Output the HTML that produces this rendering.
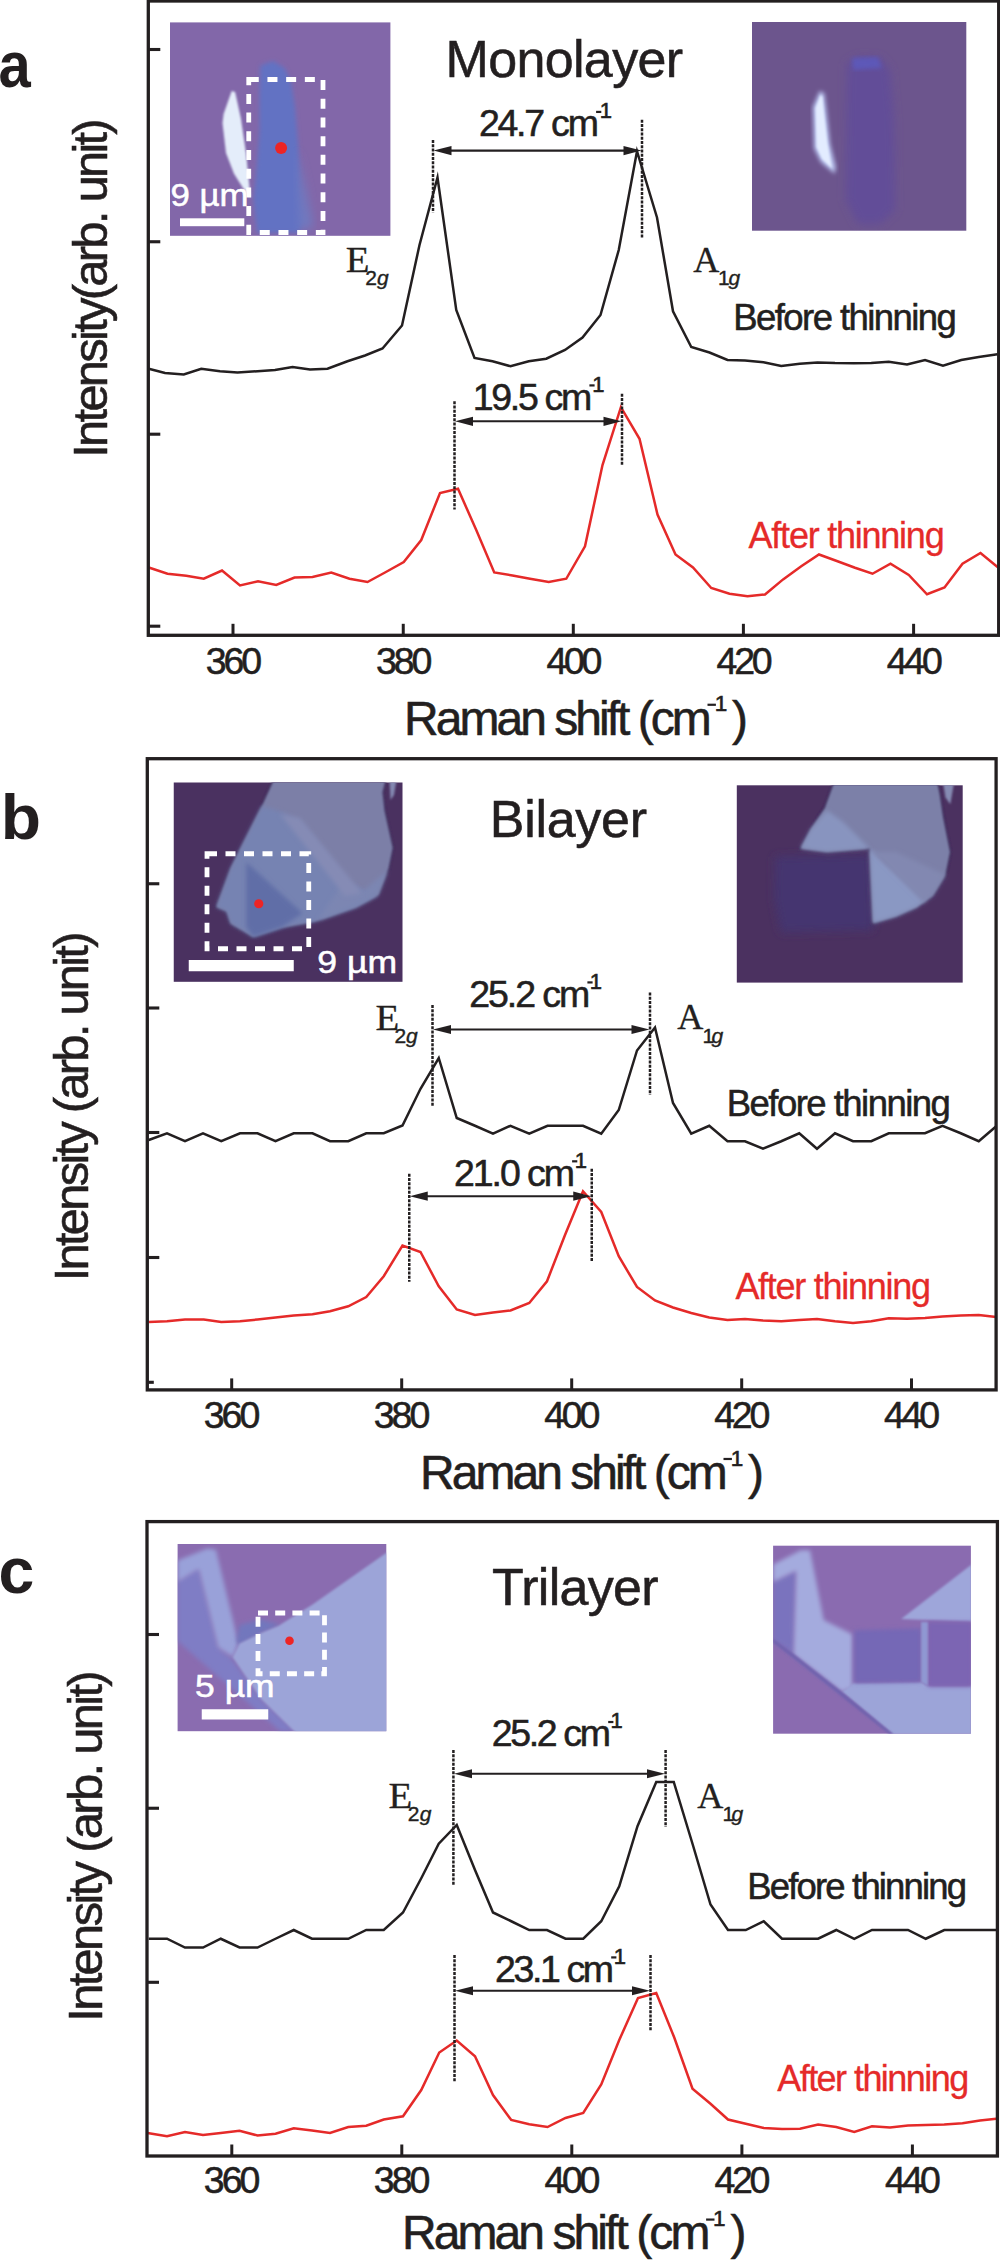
<!DOCTYPE html>
<html><head><meta charset="utf-8"><title>Raman spectra</title>
<style>html,body{margin:0;padding:0;background:#fff}svg{display:block}text{white-space:pre}</style></head>
<body><svg width="1000" height="2260" viewBox="0 0 1000 2260">
<defs>
<filter id="b1" x="-10%" y="-10%" width="120%" height="120%"><feGaussianBlur stdDeviation="1.2"/></filter>
<filter id="b2" x="-10%" y="-10%" width="120%" height="120%"><feGaussianBlur stdDeviation="2.2"/></filter>
<filter id="b3" x="-20%" y="-20%" width="140%" height="140%"><feGaussianBlur stdDeviation="4"/></filter>
</defs>
<rect width="1000" height="2260" fill="#fff"/>
<!-- panel a -->
<clipPath id="ca1"><rect x="170" y="22.4" width="220.4" height="213.4"/></clipPath>
<rect x="170" y="22.4" width="220.4" height="213.4" fill="#8267a9"/>
<g clip-path="url(#ca1)">
<polygon points="260.4,65.6 273.0,61.0 284.6,68.0 291.0,81.7 295.0,107.0 298.0,143.8 301.0,189.8 305.0,222.0 298.4,233.0 257.0,233.0 253.5,199.0 256.0,176.0 259.6,130.0 259.4,95.5" fill="#6272c3" filter="url(#b2)"/>
<polygon points="297.0,150.0 306.0,190.0 313.0,226.0 300.0,232.0" fill="#7079c0" filter="url(#b3)"/>
<polygon points="231.7,90.9 223.6,113.9 222.5,123.1 226.0,153.0 234.0,173.7 243.0,188.0 250.5,197.5 246.0,153.0 240.9,118.5 235.1,92.0" fill="#e4edfa" filter="url(#b1)"/>
</g>
<rect x="248.75" y="79.5" width="74.25" height="153.0" fill="none" stroke="#fff" stroke-width="4.8" stroke-dasharray="10 8.7"/>
<circle cx="281.1" cy="147.9" r="6" fill="#ee2424"/>
<rect x="180" y="218.3" width="64.30000000000001" height="7.899999999999977" fill="#fff"/>
<text transform="translate(170.52,206.30) scale(1.0884,1)" font-family="Liberation Sans" font-size="32" fill="#fff" stroke="#fff" stroke-width="0.5">9 µm</text>
<clipPath id="ca2"><rect x="752" y="22" width="214.3" height="208.7"/></clipPath>
<rect x="752" y="22" width="214.3" height="208.7" fill="#6c558d"/>
<g clip-path="url(#ca2)">
<polygon points="847.0,64.0 858.0,57.0 880.0,58.0 890.0,70.0 894.0,120.0 895.0,210.0 880.0,224.0 858.0,224.0 846.0,200.0" fill="#624d98" filter="url(#b3)"/>
<polygon points="852.0,58.0 878.0,57.0 882.0,68.0 853.0,70.0" fill="#5d58b8" filter="url(#b2)"/>
<polygon points="819.7,90.9 812.8,107.0 814.0,148.4 820.9,162.2 834.7,173.7 835.8,166.8 830.1,143.8 826.6,111.6 824.3,93.2" fill="#b9c3ee" filter="url(#b2)"/>
<polygon points="820.5,95.0 815.5,108.0 816.5,147.0 822.0,159.0 832.0,168.5 827.5,143.0 824.0,112.0 822.5,97.0" fill="#e3ecff" filter="url(#b1)"/>
</g>
<polyline points="148.75,368.75 165.00,373.00 183.75,374.50 201.25,368.75 220.00,371.25 237.50,372.50 257.50,371.25 275.00,370.00 292.50,367.00 310.00,369.50 327.50,368.75 347.50,361.25 365.00,355.50 382.50,348.50 402.00,325.50 419.50,245.00 437.50,177.50 456.25,310.00 474.50,358.00 492.50,361.25 510.50,366.25 528.75,361.25 546.25,358.75 565.00,350.00 582.50,337.50 600.50,315.00 618.75,250.00 637.00,151.25 657.00,217.50 673.00,311.25 691.25,347.00 709.50,352.50 727.50,360.00 745.00,360.50 763.50,362.20 781.25,366.00 799.75,363.75 817.50,362.50 835.00,363.10 853.75,363.20 871.25,363.00 888.75,361.75 907.00,364.50 925.00,360.00 943.00,365.75 961.25,360.00 978.75,357.00 997.50,354.25" fill="none" stroke="#231f20" stroke-width="2.5" stroke-linejoin="miter" stroke-miterlimit="6"/>
<polyline points="148.75,567.50 167.50,573.75 186.25,575.75 203.75,578.75 222.00,570.50 240.00,585.50 258.00,581.25 276.25,585.00 294.50,577.50 312.50,577.00 331.25,572.50 349.50,578.75 367.50,582.00 385.00,572.50 403.75,562.00 421.25,540.00 440.00,493.00 458.00,488.75 476.25,530.00 494.25,572.50 512.50,575.50 530.00,578.75 548.75,582.00 566.25,578.75 585.00,546.25 602.50,465.00 620.90,407.20 639.50,438.75 657.50,514.50 675.50,554.50 693.00,567.50 711.25,588.00 729.50,593.75 747.50,596.25 765.00,594.50 783.10,579.40 801.25,566.25 819.00,554.50 837.50,561.25 855.00,567.75 872.50,573.75 890.50,563.75 908.75,575.00 927.00,594.25 944.50,587.50 962.50,563.75 980.50,553.00 998.75,568.00" fill="none" stroke="#e52a29" stroke-width="2.5" stroke-linejoin="miter" stroke-miterlimit="6"/>
<rect x="148.3" y="1.0" width="850.4000000000001" height="634.3" fill="none" stroke="#231f20" stroke-width="3.3"/>
<line x1="148.3" y1="49.5" x2="160.3" y2="49.5" stroke="#231f20" stroke-width="3.1"/>
<line x1="148.3" y1="241.75" x2="160.3" y2="241.75" stroke="#231f20" stroke-width="3.1"/>
<line x1="148.3" y1="434.2" x2="160.3" y2="434.2" stroke="#231f20" stroke-width="3.1"/>
<line x1="148.3" y1="626.2" x2="160.3" y2="626.2" stroke="#231f20" stroke-width="3.1"/>
<line x1="233" y1="623.8" x2="233" y2="635.3" stroke="#231f20" stroke-width="3.0"/>
<line x1="403.25" y1="623.8" x2="403.25" y2="635.3" stroke="#231f20" stroke-width="3.0"/>
<line x1="573.3" y1="623.8" x2="573.3" y2="635.3" stroke="#231f20" stroke-width="3.0"/>
<line x1="743.4" y1="623.8" x2="743.4" y2="635.3" stroke="#231f20" stroke-width="3.0"/>
<line x1="913.6" y1="623.8" x2="913.6" y2="635.3" stroke="#231f20" stroke-width="3.0"/>
<text x="205.65" y="673.50" font-family="Liberation Sans" font-size="37.5" letter-spacing="-3.012" fill="#231f20" stroke="#231f20" stroke-width="0.55">360</text>
<text x="375.90" y="673.50" font-family="Liberation Sans" font-size="37.5" letter-spacing="-3.012" fill="#231f20" stroke="#231f20" stroke-width="0.55">380</text>
<text x="546.51" y="673.50" font-family="Liberation Sans" font-size="37.5" letter-spacing="-3.296" fill="#231f20" stroke="#231f20" stroke-width="0.55">400</text>
<text x="716.61" y="673.50" font-family="Liberation Sans" font-size="37.5" letter-spacing="-3.296" fill="#231f20" stroke="#231f20" stroke-width="0.55">420</text>
<text x="886.81" y="673.50" font-family="Liberation Sans" font-size="37.5" letter-spacing="-3.296" fill="#231f20" stroke="#231f20" stroke-width="0.55">440</text>
<text transform="translate(-1.50,87.20) scale(0.9055,1)" font-family="Liberation Sans" font-weight="bold" font-size="64" fill="#231f20">a</text>
<text transform="translate(106.60,453.50) rotate(-90)" x="-4.25" y="0" font-family="Liberation Sans" font-size="49" letter-spacing="-2.777" fill="#231f20" stroke="#231f20" stroke-width="0.55">Intensity(arb. unit)</text>
<text x="445.51" y="77.30" font-family="Liberation Sans" font-size="52" letter-spacing="-0.651" fill="#231f20" stroke="#231f20" stroke-width="0.55">Monolayer</text>
<text x="478.89" y="136.30" font-family="Liberation Sans" font-size="37.5" letter-spacing="-2.231" fill="#231f20" stroke="#231f20" stroke-width="0.55">24.7 cm</text>
<rect x="596.10" y="110.82" width="5.20" height="2.2" fill="#231f20"/>
<text x="599.74" y="118.30" font-family="Liberation Sans" font-size="22" fill="#231f20" stroke="#231f20" stroke-width="0.6">1</text>
<text x="472.72" y="409.80" font-family="Liberation Sans" font-size="37.5" letter-spacing="-2.319" fill="#231f20" stroke="#231f20" stroke-width="0.55">19.5 cm</text>
<rect x="589.40" y="384.32" width="5.20" height="2.2" fill="#231f20"/>
<text x="592.14" y="391.80" font-family="Liberation Sans" font-size="22" fill="#231f20" stroke="#231f20" stroke-width="0.6">1</text>
<line x1="433" y1="140" x2="433" y2="212.5" stroke="#231f20" stroke-width="2.5" stroke-dasharray="3.0 1.25"/>
<line x1="642" y1="119.8" x2="642" y2="238.25" stroke="#231f20" stroke-width="2.5" stroke-dasharray="3.0 1.25"/>
<line x1="449.5" y1="150.6" x2="625.5" y2="150.6" stroke="#231f20" stroke-width="2.1"/>
<polygon points="433.5,150.6 451.5,146.0 451.5,155.2" fill="#231f20"/>
<polygon points="641.5,150.6 623.5,146.0 623.5,155.2" fill="#231f20"/>
<line x1="454.5" y1="401.25" x2="454.5" y2="509.5" stroke="#231f20" stroke-width="2.5" stroke-dasharray="3.0 1.25"/>
<line x1="622" y1="393.75" x2="622" y2="465.5" stroke="#231f20" stroke-width="2.5" stroke-dasharray="3.0 1.25"/>
<line x1="471" y1="421.3" x2="605.5" y2="421.3" stroke="#231f20" stroke-width="2.1"/>
<polygon points="455,421.3 473,416.7 473,425.90000000000003" fill="#231f20"/>
<polygon points="621.5,421.3 603.5,416.7 603.5,425.90000000000003" fill="#231f20"/>
<text transform="translate(345.78,271.60) scale(1.080,1)" font-family="Liberation Serif" font-size="36" fill="#231f20" stroke="#231f20" stroke-width="0.3">E</text>
<text x="365.34" y="284.70" font-family="Liberation Sans" font-size="21" fill="#231f20" stroke="#231f20" stroke-width="0.4">2</text>
<text x="377.11" y="284.70" font-family="Liberation Sans" font-size="21" font-style="italic" fill="#231f20" stroke="#231f20" stroke-width="0.4">g</text>
<text transform="translate(693.15,271.60) scale(1.005,1)" font-family="Liberation Serif" font-size="36" fill="#231f20" stroke="#231f20" stroke-width="0.3">A</text>
<text x="717.90" y="284.70" font-family="Liberation Sans" font-size="21" fill="#231f20" stroke="#231f20" stroke-width="0.4">1</text>
<text x="728.51" y="284.70" font-family="Liberation Sans" font-size="21" font-style="italic" fill="#231f20" stroke="#231f20" stroke-width="0.4">g</text>
<text x="733.28" y="329.60" font-family="Liberation Sans" font-size="36.5" letter-spacing="-1.574" fill="#231f20" stroke="#231f20" stroke-width="0.55">Before thinning</text>
<text x="748.58" y="547.60" font-family="Liberation Sans" font-size="36" letter-spacing="-1.234" fill="#e52a29" stroke="#e52a29" stroke-width="0.3">After thinning</text>
<text x="404.04" y="734.50" font-family="Liberation Sans" font-size="48" letter-spacing="-2.975" fill="#231f20" stroke="#231f20" stroke-width="0.55">Raman shift (cm</text>
<rect x="707.50" y="703.67" width="8.40" height="2.2" fill="#231f20"/>
<text x="714.69" y="711.30" font-family="Liberation Sans" font-size="22.5" fill="#231f20" stroke="#231f20" stroke-width="0.6">1</text>
<text x="731.99" y="734.50" font-family="Liberation Sans" font-size="48" letter-spacing="0.000" fill="#231f20" stroke="#231f20" stroke-width="0.55">)</text>
<!-- panel b -->
<clipPath id="cb1"><rect x="173.75" y="782.5" width="228.75" height="199.3"/></clipPath>
<rect x="173.75" y="782.5" width="228.75" height="199.3" fill="#4a3160"/>
<g clip-path="url(#cb1)">
<polygon points="273.8,780.0 261.5,806.7 243.0,843.5 230.7,868.2 216.4,907.1 226.7,911.2 230.7,923.5 253.3,936.8 282.0,927.6 314.8,921.5 355.8,907.1 378.4,894.8 388.6,868.2 392.7,847.7 384.5,810.8 382.5,792.3 385.5,780.0" fill="#3f2f5c" filter="url(#b1)" stroke="#3f2f5c" stroke-width="2.5"/>
<polygon points="273.8,780.0 261.5,806.7 243.0,843.5 230.7,868.2 216.4,907.1 226.7,911.2 230.7,923.5 253.3,936.8 282.0,927.6 314.8,921.5 355.8,907.1 378.4,894.8 388.6,868.2 392.7,847.7 384.5,810.8 382.5,792.3 385.5,780.0" fill="#7b7fa7" filter="url(#b1)"/>
<polygon points="262.0,806.0 243.0,843.5 230.7,868.2 216.4,907.1 226.7,911.2 230.7,923.5 253.3,936.8 282.0,927.6 314.8,921.5 355.8,907.1 378.0,895.0 350.0,885.0 300.0,822.0 282.0,812.0" fill="#7683b2" filter="url(#b2)"/>
<polygon points="318.0,920.0 355.8,907.1 378.4,894.8 388.0,870.0 362.0,892.0 345.0,880.0" fill="#7c86b2" filter="url(#b2)"/>
<polygon points="280.0,814.0 300.0,818.0 362.0,893.0 345.0,896.0" fill="#858bb5" filter="url(#b2)"/>
<polygon points="246.1,862.0 302.5,913.3 282.0,927.0 253.3,936.8 246.1,927.0" fill="#606ea7" filter="url(#b2)"/>
<polygon points="389.5,780.0 396.5,780.0 394.0,795.0 390.5,800.0" fill="#8388b1" filter="url(#b1)"/>
</g>
<rect x="207" y="853.75" width="101.75" height="95.0" fill="none" stroke="#fff" stroke-width="4.8" stroke-dasharray="10 8.5"/>
<circle cx="258.75" cy="903.75" r="4.6" fill="#ee2424"/>
<rect x="188.75" y="960" width="105.0" height="11.25" fill="#fff"/>
<text transform="translate(317.33,972.50) scale(1.1470,1)" font-family="Liberation Sans" font-size="31" fill="#fff" stroke="#fff" stroke-width="0.5">9 µm</text>
<clipPath id="cb2"><rect x="736.8" y="785.3" width="225.9" height="197.3"/></clipPath>
<rect x="736.8" y="785.3" width="225.9" height="197.3" fill="#4b3160"/>
<g clip-path="url(#cb2)">
<polygon points="775.2,856.6 870.7,854.3 873.0,930.2 781.0,932.5 774.1,898.0" fill="#44366f" filter="url(#b3)"/>
<polygon points="833.9,783.0 824.7,808.3 810.9,829.0 800.5,848.5 827.0,852.0 869.5,848.5 873.0,923.3 896.0,916.4 916.7,907.2 932.8,895.7 945.4,875.0 950.0,852.0 943.1,817.5 939.7,794.5 937.4,783.0" fill="#3c2c58" filter="url(#b1)" stroke="#3c2c58" stroke-width="2.5"/>
<polygon points="833.9,783.0 824.7,808.3 810.9,829.0 800.5,848.5 827.0,852.0 869.5,848.5 873.0,923.3 896.0,916.4 916.7,907.2 932.8,895.7 945.4,875.0 950.0,852.0 943.1,817.5 939.7,794.5 937.4,783.0" fill="#7c80a8" filter="url(#b1)"/>
<polygon points="810.9,829.0 800.5,848.5 827.0,852.0 869.5,848.5 843.1,822.1 827.0,810.6" fill="#8894bf" filter="url(#b2)"/>
<polygon points="869.5,848.5 873.0,923.3 896.0,916.4 916.7,907.2 925.9,900.3 896.0,872.7" fill="#8a98c3" filter="url(#b2)"/>
<polygon points="873.0,852.0 923.6,902.6 932.8,895.7 945.4,875.0 896.0,852.0" fill="#8288b1" filter="url(#b2)"/>
<polygon points="943.1,783.0 954.0,783.0 950.3,804.2 945.4,797.3" fill="#868bb3" filter="url(#b1)"/>
</g>
<polyline points="148.75,1140.00 167.00,1133.25 185.00,1141.25 203.00,1133.25 221.25,1141.25 240.00,1133.25 257.50,1133.25 275.50,1141.25 293.75,1133.25 312.50,1133.25 330.00,1141.25 348.25,1141.25 366.25,1133.25 383.75,1133.25 402.50,1125.50 420.50,1088.75 438.75,1058.00 456.75,1118.00 475.00,1125.75 493.00,1133.75 510.50,1125.75 529.25,1133.75 547.50,1125.75 565.00,1125.75 583.00,1125.75 601.25,1133.75 618.75,1110.00 637.00,1050.50 655.00,1027.50 673.00,1103.00 691.25,1133.75 709.25,1125.75 727.50,1141.25 745.00,1141.25 763.00,1148.75 781.25,1141.25 799.25,1133.25 817.00,1148.75 835.00,1133.25 853.00,1141.25 871.25,1141.25 888.75,1133.25 907.00,1133.25 925.00,1133.25 942.50,1125.75 960.75,1133.25 978.75,1141.25 996.25,1126.25" fill="none" stroke="#231f20" stroke-width="2.5" stroke-linejoin="miter" stroke-miterlimit="6"/>
<polyline points="148.75,1322.00 167.00,1321.25 185.00,1319.50 203.75,1319.50 221.25,1322.00 240.00,1321.25 257.50,1319.50 275.50,1317.50 293.75,1315.50 312.50,1314.25 330.00,1311.25 348.25,1306.25 366.25,1297.00 383.75,1276.25 402.50,1245.50 420.50,1252.00 438.75,1286.25 456.75,1309.50 475.00,1315.00 493.00,1312.50 510.50,1310.50 529.25,1303.00 547.00,1281.25 565.00,1235.00 583.00,1191.25 601.25,1212.00 618.75,1256.25 637.00,1287.00 655.00,1300.50 673.00,1307.50 691.25,1313.00 709.25,1317.50 727.50,1320.00 745.00,1319.00 763.00,1320.50 781.25,1321.25 799.25,1320.00 817.00,1318.90 835.00,1321.25 853.00,1323.00 871.25,1321.25 888.75,1318.25 907.00,1318.75 925.00,1318.00 942.50,1316.50 960.75,1315.50 978.75,1315.00 996.25,1317.00" fill="none" stroke="#e52a29" stroke-width="2.5" stroke-linejoin="miter" stroke-miterlimit="6"/>
<rect x="147.3" y="758.7" width="848.8" height="631.2" fill="none" stroke="#231f20" stroke-width="3.3"/>
<line x1="147.3" y1="883.75" x2="159.3" y2="883.75" stroke="#231f20" stroke-width="3.1"/>
<line x1="147.3" y1="1008" x2="159.3" y2="1008" stroke="#231f20" stroke-width="3.1"/>
<line x1="147.3" y1="1132.5" x2="159.3" y2="1132.5" stroke="#231f20" stroke-width="3.1"/>
<line x1="147.3" y1="1257.5" x2="159.3" y2="1257.5" stroke="#231f20" stroke-width="3.1"/>
<line x1="147.3" y1="1382.3" x2="153.8" y2="1382.3" stroke="#231f20" stroke-width="3.1"/>
<line x1="231.7" y1="1378.4" x2="231.7" y2="1389.9" stroke="#231f20" stroke-width="3.0"/>
<line x1="401.7" y1="1378.4" x2="401.7" y2="1389.9" stroke="#231f20" stroke-width="3.0"/>
<line x1="571.7" y1="1378.4" x2="571.7" y2="1389.9" stroke="#231f20" stroke-width="3.0"/>
<line x1="741.7" y1="1378.4" x2="741.7" y2="1389.9" stroke="#231f20" stroke-width="3.0"/>
<line x1="911.5" y1="1378.4" x2="911.5" y2="1389.9" stroke="#231f20" stroke-width="3.0"/>
<text x="203.75" y="1427.60" font-family="Liberation Sans" font-size="37.5" letter-spacing="-3.012" fill="#231f20" stroke="#231f20" stroke-width="0.55">360</text>
<text x="373.75" y="1427.60" font-family="Liberation Sans" font-size="37.5" letter-spacing="-3.012" fill="#231f20" stroke="#231f20" stroke-width="0.55">380</text>
<text x="544.31" y="1427.60" font-family="Liberation Sans" font-size="37.5" letter-spacing="-3.296" fill="#231f20" stroke="#231f20" stroke-width="0.55">400</text>
<text x="714.31" y="1427.60" font-family="Liberation Sans" font-size="37.5" letter-spacing="-3.296" fill="#231f20" stroke="#231f20" stroke-width="0.55">420</text>
<text x="884.11" y="1427.60" font-family="Liberation Sans" font-size="37.5" letter-spacing="-3.296" fill="#231f20" stroke="#231f20" stroke-width="0.55">440</text>
<text transform="translate(0.66,838.70) scale(1.0458,1)" font-family="Liberation Sans" font-weight="bold" font-size="63" fill="#231f20">b</text>
<text transform="translate(88.10,1277.00) rotate(-90)" x="-4.25" y="0" font-family="Liberation Sans" font-size="49" letter-spacing="-2.804" fill="#231f20" stroke="#231f20" stroke-width="0.55">Intensity (arb. unit)</text>
<text x="489.81" y="837.40" font-family="Liberation Sans" font-size="52" letter-spacing="-0.294" fill="#231f20" stroke="#231f20" stroke-width="0.55">Bilayer</text>
<text x="469.19" y="1006.80" font-family="Liberation Sans" font-size="37.5" letter-spacing="-2.064" fill="#231f20" stroke="#231f20" stroke-width="0.55">25.2 cm</text>
<rect x="587.40" y="981.32" width="5.20" height="2.2" fill="#231f20"/>
<text x="589.84" y="988.80" font-family="Liberation Sans" font-size="22" fill="#231f20" stroke="#231f20" stroke-width="0.6">1</text>
<text x="454.09" y="1185.70" font-family="Liberation Sans" font-size="37.5" letter-spacing="-2.097" fill="#231f20" stroke="#231f20" stroke-width="0.55">21.0 cm</text>
<rect x="572.10" y="1160.22" width="5.20" height="2.2" fill="#231f20"/>
<text x="574.84" y="1167.70" font-family="Liberation Sans" font-size="22" fill="#231f20" stroke="#231f20" stroke-width="0.6">1</text>
<line x1="432.5" y1="1005" x2="432.5" y2="1107" stroke="#231f20" stroke-width="2.5" stroke-dasharray="3.0 1.25"/>
<line x1="650" y1="992.5" x2="650" y2="1095" stroke="#231f20" stroke-width="2.5" stroke-dasharray="3.0 1.25"/>
<line x1="449" y1="1029.5" x2="633.5" y2="1029.5" stroke="#231f20" stroke-width="2.1"/>
<polygon points="433,1029.5 451,1024.9 451,1034.1" fill="#231f20"/>
<polygon points="649.5,1029.5 631.5,1024.9 631.5,1034.1" fill="#231f20"/>
<line x1="409.25" y1="1173.75" x2="409.25" y2="1281.75" stroke="#231f20" stroke-width="2.5" stroke-dasharray="3.0 1.25"/>
<line x1="591.75" y1="1168.75" x2="591.75" y2="1262" stroke="#231f20" stroke-width="2.5" stroke-dasharray="3.0 1.25"/>
<line x1="425.75" y1="1196.2" x2="575.25" y2="1196.2" stroke="#231f20" stroke-width="2.1"/>
<polygon points="409.75,1196.2 427.75,1191.6000000000001 427.75,1200.8" fill="#231f20"/>
<polygon points="591.25,1196.2 573.25,1191.6000000000001 573.25,1200.8" fill="#231f20"/>
<text transform="translate(375.38,1029.80) scale(1.080,1)" font-family="Liberation Serif" font-size="36" fill="#231f20" stroke="#231f20" stroke-width="0.3">E</text>
<text x="394.44" y="1042.50" font-family="Liberation Sans" font-size="21" fill="#231f20" stroke="#231f20" stroke-width="0.4">2</text>
<text x="406.01" y="1042.50" font-family="Liberation Sans" font-size="21" font-style="italic" fill="#231f20" stroke="#231f20" stroke-width="0.4">g</text>
<text transform="translate(677.15,1029.00) scale(1.005,1)" font-family="Liberation Serif" font-size="36" fill="#231f20" stroke="#231f20" stroke-width="0.3">A</text>
<text x="702.40" y="1042.50" font-family="Liberation Sans" font-size="21" fill="#231f20" stroke="#231f20" stroke-width="0.4">1</text>
<text x="711.51" y="1042.50" font-family="Liberation Sans" font-size="21" font-style="italic" fill="#231f20" stroke="#231f20" stroke-width="0.4">g</text>
<text x="726.78" y="1115.80" font-family="Liberation Sans" font-size="36.5" letter-spacing="-1.535" fill="#231f20" stroke="#231f20" stroke-width="0.55">Before thinning</text>
<text x="735.38" y="1298.60" font-family="Liberation Sans" font-size="36" letter-spacing="-1.276" fill="#e52a29" stroke="#e52a29" stroke-width="0.3">After thinning</text>
<text x="420.04" y="1488.70" font-family="Liberation Sans" font-size="48" letter-spacing="-2.975" fill="#231f20" stroke="#231f20" stroke-width="0.55">Raman shift (cm</text>
<rect x="723.50" y="1457.88" width="8.40" height="2.2" fill="#231f20"/>
<text x="730.69" y="1465.50" font-family="Liberation Sans" font-size="22.5" fill="#231f20" stroke="#231f20" stroke-width="0.6">1</text>
<text x="747.99" y="1488.70" font-family="Liberation Sans" font-size="48" letter-spacing="0.000" fill="#231f20" stroke="#231f20" stroke-width="0.55">)</text>
<!-- panel c -->
<clipPath id="cc1"><rect x="177.6" y="1544" width="208.7" height="187.2"/></clipPath>
<rect x="177.6" y="1544" width="208.7" height="187.2" fill="#8a6cb0"/>
<g clip-path="url(#cc1)">
<polygon points="177.6,1580.9 198.7,1568.0 218.0,1647.5 233.1,1660.4 261.0,1699.1 295.4,1731.4 280.4,1731.4 177.6,1641.1" fill="#7f7dc5" filter="url(#b2)"/>
<polygon points="177.6,1560.4 207.3,1548.6 215.9,1549.7 238.4,1643.2 233.1,1657.2 218.0,1647.5 198.7,1569.0 177.6,1581.9" fill="#99a1d9" filter="url(#b2)"/>
<polygon points="236.3,1641.1 239.5,1624.9 261.0,1619.6 280.4,1624.9 261.0,1633.5 239.5,1645.4" fill="#7277bd" filter="url(#b2)"/>
<polygon points="387.9,1551.8 312.6,1604.5 278.2,1626.0 261.0,1632.9 239.5,1643.6 232.6,1657.2 261.0,1699.1 295.4,1732.4 387.9,1732.4" fill="#9ca4d8" filter="url(#b1)"/>
</g>
<rect x="258" y="1613" width="66.5" height="60.75" fill="none" stroke="#fff" stroke-width="4.8" stroke-dasharray="10 7.2"/>
<circle cx="289.5" cy="1640.75" r="4.3" fill="#ee2424"/>
<rect x="201.75" y="1709.25" width="66.5" height="10.25" fill="#fff"/>
<text transform="translate(195.08,1697.00) scale(1.1433,1)" font-family="Liberation Sans" font-size="31" fill="#fff" stroke="#fff" stroke-width="0.5">5 µm</text>
<clipPath id="cc2"><rect x="773.1" y="1545.7" width="197.8" height="188"/></clipPath>
<rect x="773.1" y="1545.7" width="197.8" height="188" fill="#8a6bb0"/>
<g clip-path="url(#cc2)">
<polygon points="773.1,1581.0 795.6,1570.8 793.6,1654.8 773.1,1640.5" fill="#7a73be" filter="url(#b2)"/>
<polygon points="773.1,1564.6 800.8,1550.3 810.0,1550.3 823.7,1620.0 852.4,1634.3 852.4,1688.0 841.8,1692.1 793.6,1654.8 796.2,1570.8 773.1,1582.0" fill="#a4abde" filter="url(#b2)"/>
<polygon points="971.9,1564.2 901.2,1618.9 971.9,1621.4" fill="#9ea6da" filter="url(#b1)"/>
<polygon points="853.6,1683.1 920.7,1682.1 927.9,1686.0 971.9,1686.0 971.9,1734.8 893.0,1734.8 841.8,1692.1" fill="#9ca4d8" filter="url(#b1)"/>
<polygon points="854.1,1630.2 921.1,1628.6 921.1,1681.9 854.1,1682.9" fill="#7568b6" filter="url(#b2)"/>
<polygon points="927.9,1622.0 971.9,1622.0 971.9,1686.8 927.9,1686.8" fill="#7c65b3" filter="url(#b2)"/>
<polygon points="921.1,1622.0 927.9,1622.0 927.9,1686.0 921.1,1682.3" fill="#9098d2" filter="url(#b1)"/>
<polygon points="773.1,1638.8 793.6,1654.0 841.8,1691.7 894.0,1734.8 889.9,1734.8 773.1,1642.5" fill="#6f62ad" filter="url(#b1)"/>
</g>
<polyline points="148.75,1938.75 167.00,1938.75 185.00,1947.50 203.00,1947.50 220.75,1938.75 239.50,1947.50 257.50,1947.50 275.50,1938.75 293.75,1930.00 312.00,1938.75 330.00,1938.75 348.25,1938.75 366.25,1930.00 383.75,1930.00 403.00,1912.50 421.25,1878.25 438.75,1843.75 456.75,1825.00 475.00,1870.00 493.00,1912.50 511.25,1921.25 529.25,1930.00 547.00,1930.00 565.50,1938.75 583.25,1938.75 601.25,1921.25 619.25,1886.25 637.50,1826.25 656.25,1782.00 673.75,1782.00 692.50,1843.75 710.50,1904.50 728.00,1930.00 745.75,1930.00 763.75,1921.25 782.00,1938.75 800.00,1938.75 818.10,1938.75 836.25,1930.00 854.25,1938.75 872.00,1930.00 890.00,1930.00 908.00,1930.00 925.75,1938.75 944.25,1930.00 962.50,1930.00 980.00,1930.00 996.25,1930.00" fill="none" stroke="#231f20" stroke-width="2.5" stroke-linejoin="miter" stroke-miterlimit="6"/>
<polyline points="147.50,2133.00 167.00,2136.25 185.00,2132.00 203.00,2135.00 220.75,2133.00 239.50,2130.75 257.50,2135.50 275.50,2133.75 293.75,2128.25 312.00,2130.50 330.00,2133.00 348.25,2127.00 366.25,2125.75 383.75,2119.50 403.00,2116.25 421.25,2090.00 439.25,2052.50 456.75,2040.50 475.00,2056.25 493.00,2095.00 511.25,2120.00 529.25,2124.25 547.50,2127.00 565.50,2118.00 583.25,2113.00 601.25,2084.50 619.25,2040.00 638.00,1998.00 656.25,1993.00 674.25,2037.50 692.50,2088.75 710.50,2103.75 728.00,2119.50 745.75,2123.75 763.75,2128.00 782.00,2129.00 800.00,2128.75 818.10,2124.50 836.25,2127.00 854.25,2131.90 872.00,2126.25 890.00,2127.50 908.00,2125.50 925.75,2125.00 944.25,2124.50 962.50,2123.25 980.00,2120.50 996.25,2118.75" fill="none" stroke="#e52a29" stroke-width="2.5" stroke-linejoin="miter" stroke-miterlimit="6"/>
<rect x="147.0" y="1521.6" width="850.4" height="634.4000000000001" fill="none" stroke="#231f20" stroke-width="3.3"/>
<line x1="147.0" y1="1634.5" x2="159.0" y2="1634.5" stroke="#231f20" stroke-width="3.1"/>
<line x1="147.0" y1="1808.25" x2="159.0" y2="1808.25" stroke="#231f20" stroke-width="3.1"/>
<line x1="147.0" y1="1982.3" x2="159.0" y2="1982.3" stroke="#231f20" stroke-width="3.1"/>
<line x1="231.8" y1="2144.5" x2="231.8" y2="2156.0" stroke="#231f20" stroke-width="3.0"/>
<line x1="401.8" y1="2144.5" x2="401.8" y2="2156.0" stroke="#231f20" stroke-width="3.0"/>
<line x1="571.8" y1="2144.5" x2="571.8" y2="2156.0" stroke="#231f20" stroke-width="3.0"/>
<line x1="741.9" y1="2144.5" x2="741.9" y2="2156.0" stroke="#231f20" stroke-width="3.0"/>
<line x1="912.4" y1="2144.5" x2="912.4" y2="2156.0" stroke="#231f20" stroke-width="3.0"/>
<text x="203.85" y="2193.40" font-family="Liberation Sans" font-size="37.5" letter-spacing="-3.012" fill="#231f20" stroke="#231f20" stroke-width="0.55">360</text>
<text x="373.85" y="2193.40" font-family="Liberation Sans" font-size="37.5" letter-spacing="-3.012" fill="#231f20" stroke="#231f20" stroke-width="0.55">380</text>
<text x="544.41" y="2193.40" font-family="Liberation Sans" font-size="37.5" letter-spacing="-3.296" fill="#231f20" stroke="#231f20" stroke-width="0.55">400</text>
<text x="714.51" y="2193.40" font-family="Liberation Sans" font-size="37.5" letter-spacing="-3.296" fill="#231f20" stroke="#231f20" stroke-width="0.55">420</text>
<text x="885.01" y="2193.40" font-family="Liberation Sans" font-size="37.5" letter-spacing="-3.296" fill="#231f20" stroke="#231f20" stroke-width="0.55">440</text>
<text transform="translate(-1.51,1593.00) scale(0.9903,1)" font-family="Liberation Sans" font-weight="bold" font-size="65" fill="#231f20">c</text>
<text transform="translate(102.00,2017.50) rotate(-90)" x="-4.25" y="0" font-family="Liberation Sans" font-size="49" letter-spacing="-2.719" fill="#231f20" stroke="#231f20" stroke-width="0.55">Intensity (arb. unit)</text>
<text x="492.11" y="1604.80" font-family="Liberation Sans" font-size="52" letter-spacing="-0.694" fill="#231f20" stroke="#231f20" stroke-width="0.55">Trilayer</text>
<text x="491.69" y="1746.40" font-family="Liberation Sans" font-size="37.5" letter-spacing="-2.347" fill="#231f20" stroke="#231f20" stroke-width="0.55">25.2 cm</text>
<rect x="608.20" y="1720.92" width="5.20" height="2.2" fill="#231f20"/>
<text x="610.44" y="1728.40" font-family="Liberation Sans" font-size="22" fill="#231f20" stroke="#231f20" stroke-width="0.6">1</text>
<text x="495.09" y="1981.80" font-family="Liberation Sans" font-size="37.5" letter-spacing="-2.414" fill="#231f20" stroke="#231f20" stroke-width="0.55">23.1 cm</text>
<rect x="611.20" y="1956.32" width="5.20" height="2.2" fill="#231f20"/>
<text x="613.84" y="1963.80" font-family="Liberation Sans" font-size="22" fill="#231f20" stroke="#231f20" stroke-width="0.6">1</text>
<line x1="453.4" y1="1750" x2="453.4" y2="1885.5" stroke="#231f20" stroke-width="2.5" stroke-dasharray="3.0 1.25"/>
<line x1="665.6" y1="1750" x2="665.6" y2="1827" stroke="#231f20" stroke-width="2.5" stroke-dasharray="3.0 1.25"/>
<line x1="470" y1="1773.75" x2="649" y2="1773.75" stroke="#231f20" stroke-width="2.1"/>
<polygon points="454,1773.75 472,1769.15 472,1778.35" fill="#231f20"/>
<polygon points="665,1773.75 647,1769.15 647,1778.35" fill="#231f20"/>
<line x1="454.5" y1="1955" x2="454.5" y2="2081.75" stroke="#231f20" stroke-width="2.5" stroke-dasharray="3.0 1.25"/>
<line x1="650.5" y1="1955" x2="650.5" y2="2031.25" stroke="#231f20" stroke-width="2.5" stroke-dasharray="3.0 1.25"/>
<line x1="471" y1="1990.75" x2="634" y2="1990.75" stroke="#231f20" stroke-width="2.1"/>
<polygon points="455,1990.75 473,1986.15 473,1995.35" fill="#231f20"/>
<polygon points="650,1990.75 632,1986.15 632,1995.35" fill="#231f20"/>
<text transform="translate(388.38,1807.80) scale(1.080,1)" font-family="Liberation Serif" font-size="36" fill="#231f20" stroke="#231f20" stroke-width="0.3">E</text>
<text x="407.69" y="1820.50" font-family="Liberation Sans" font-size="21" fill="#231f20" stroke="#231f20" stroke-width="0.4">2</text>
<text x="419.76" y="1820.50" font-family="Liberation Sans" font-size="21" font-style="italic" fill="#231f20" stroke="#231f20" stroke-width="0.4">g</text>
<text transform="translate(697.15,1807.50) scale(1.005,1)" font-family="Liberation Serif" font-size="36" fill="#231f20" stroke="#231f20" stroke-width="0.3">A</text>
<text x="722.40" y="1820.50" font-family="Liberation Sans" font-size="21" fill="#231f20" stroke="#231f20" stroke-width="0.4">1</text>
<text x="731.51" y="1820.50" font-family="Liberation Sans" font-size="21" font-style="italic" fill="#231f20" stroke="#231f20" stroke-width="0.4">g</text>
<text x="747.28" y="1898.60" font-family="Liberation Sans" font-size="36.5" letter-spacing="-1.839" fill="#231f20" stroke="#231f20" stroke-width="0.55">Before thinning</text>
<text x="777.28" y="2091.30" font-family="Liberation Sans" font-size="36" letter-spacing="-1.557" fill="#e52a29" stroke="#e52a29" stroke-width="0.3">After thinning</text>
<text x="402.04" y="2249.30" font-family="Liberation Sans" font-size="48" letter-spacing="-2.932" fill="#231f20" stroke="#231f20" stroke-width="0.55">Raman shift (cm</text>
<rect x="706.10" y="2218.48" width="8.40" height="2.2" fill="#231f20"/>
<text x="712.89" y="2226.10" font-family="Liberation Sans" font-size="22.5" fill="#231f20" stroke="#231f20" stroke-width="0.6">1</text>
<text x="730.59" y="2249.30" font-family="Liberation Sans" font-size="48" letter-spacing="0.000" fill="#231f20" stroke="#231f20" stroke-width="0.55">)</text>
</svg></body></html>
